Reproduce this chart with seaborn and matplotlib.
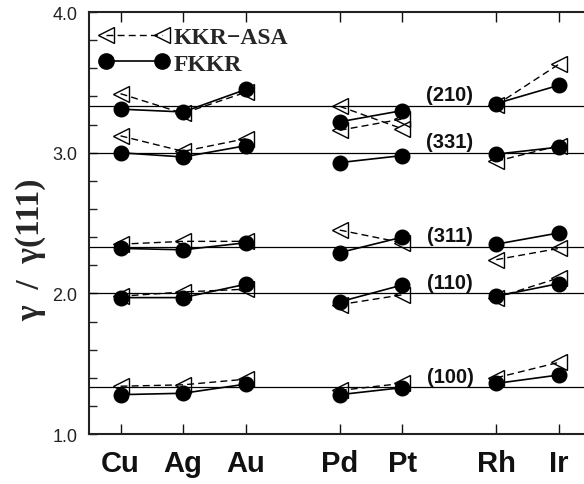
import numpy as np
import pandas as pd
import seaborn as sns
import matplotlib.pyplot as plt
from matplotlib.lines import Line2D
from matplotlib.ticker import MultipleLocator, FormatStrFormatter

# metals, grouped as they sit on the x axis
groups = [['Cu', 'Ag', 'Au'], ['Pd', 'Pt'], ['Rh', 'Ir']]
metals = [m for g in groups for m in g]

# surfaces and their ideal broken-bond ratio
surfaces = ['(100)', '(110)', '(311)', '(331)', '(210)']
ideal = [4 / 3, 2.0, 7 / 3, 3.0, 10 / 3]

# gamma / gamma(111), order Cu Ag Au Pd Pt Rh Ir
fkkr_100 = [1.28, 1.29, 1.355, 1.28, 1.33, 1.36, 1.42]
fkkr_110 = [1.97, 1.97, 2.065, 1.94, 2.06, 1.98, 2.07]
fkkr_311 = [2.32, 2.31, 2.36, 2.29, 2.40, 2.35, 2.43]
fkkr_331 = [3.00, 2.97, 3.05, 2.93, 2.98, 2.99, 3.04]
fkkr_210 = [3.31, 3.29, 3.45, 3.22, 3.30, 3.35, 3.48]

asa_100 = [1.34, 1.35, 1.39, 1.31, 1.36, 1.40, 1.51]
asa_110 = [1.98, 2.01, 2.03, 1.92, 1.99, 1.97, 2.11]
asa_311 = [2.35, 2.37, 2.37, 2.45, 2.36, 2.24, 2.32]
asa_331 = [3.12, 3.01, 3.10, 3.16, 3.24, 2.94, 3.05]
asa_210 = [3.42, 3.28, 3.43, 3.33, 3.17, 3.34, 3.63]

fkkr = [fkkr_100, fkkr_110, fkkr_311, fkkr_331, fkkr_210]
asa = [asa_100, asa_110, asa_311, asa_331, asa_210]

# x positions: one unit per metal, half a unit gap between groups
pos = {}
x = 1.0
for gi, g in enumerate(groups):
    for m in g:
        pos[m] = x
        x += 1
    x += 0.5
grp = {m: gi for gi, g in enumerate(groups) for m in g}

rows = []
for method, table in [('KKR-ASA', asa), ('FKKR', fkkr)]:
    for s, vals in zip(surfaces, table):
        for m, v in zip(metals, vals):
            rows.append({'method': method, 'x': pos[m], 'y': v,
                         'seg': f'{s}-{grp[m]}'})
df = pd.DataFrame(rows)

sns.set_style('ticks')
plt.rcParams['font.family'] = ['Liberation Sans', 'DejaVu Sans']

fig = plt.figure(figsize=(5.84, 4.85), dpi=100)
ax = fig.add_axes([0.1517, 0.103, 0.8483, 0.870])

for y in ideal:
    ax.axhline(y, color='black', linewidth=0.9, zorder=1)

sns.lineplot(data=df[df.method == 'KKR-ASA'], x='x', y='y', units='seg',
             estimator=None, sort=False, color='black', linewidth=1.0,
             linestyle=(0, (5, 3)), marker='<', markersize=11,
             markerfacecolor='none', markeredgecolor='black',
             markeredgewidth=1.0, legend=False, ax=ax, zorder=2)
sns.lineplot(data=df[df.method == 'FKKR'], x='x', y='y', units='seg',
             estimator=None, sort=False, color='black', linewidth=1.2,
             marker='o', markersize=10.5, markerfacecolor='black',
             markeredgecolor='black', markeredgewidth=1.0,
             legend=False, ax=ax, zorder=3)

# surface labels just above each reference line
for s, y in zip(surfaces, ideal):
    ax.text(6.26, y + 0.078, s, ha='center', va='center',
            fontsize=14.5, fontweight='bold', color='#111')

# legend
h_asa = Line2D([], [], color='black', linewidth=1.0, linestyle=(0, (5, 3)),
               marker='<', markersize=11, markerfacecolor='none',
               markeredgecolor='black')
h_fkkr = Line2D([], [], color='black', linewidth=1.2, marker='o',
                markersize=11)
ax.legend([h_asa, h_fkkr], ['KKR\u2212ASA', 'FKKR'], loc='upper left',
          bbox_to_anchor=(0.02, 0.966), frameon=False, numpoints=2,
          handlelength=3.0, handletextpad=0.2, labelspacing=0.22,
          borderpad=0, borderaxespad=0,
          prop={'family': 'Liberation Serif', 'weight': 'bold', 'size': 17})

ax.set_xlim(0.49, 8.4)
ax.set_ylim(1.0, 4.0)
ax.set_xticks([pos[m] for m in metals])
ax.set_xticklabels(metals, fontsize=21, fontweight='bold')
ax.yaxis.set_major_locator(MultipleLocator(1.0))
ax.yaxis.set_minor_locator(MultipleLocator(0.2))
ax.yaxis.set_major_formatter(FormatStrFormatter('%.1f'))
ax.tick_params(axis='y', which='both', direction='in', length=6, width=1,
               right=False, labelsize=13, pad=8, colors='#222')
ax.tick_params(axis='x', which='both', direction='in', length=7, width=1,
               top=True, pad=11, colors='#111')
ax.set_xlabel('')
ax.set_ylabel('\u03b3  /  \u03b3(111)', family='Liberation Serif',
              fontweight='bold', fontsize=24)
ax.yaxis.set_label_coords(-0.086, 0.44)

ax.spines['right'].set_visible(False)
for side in ['left', 'bottom', 'top']:
    ax.spines[side].set_linewidth(1.5)
    ax.spines[side].set_color('#222')

fig.savefig('out.png', dpi=100)
